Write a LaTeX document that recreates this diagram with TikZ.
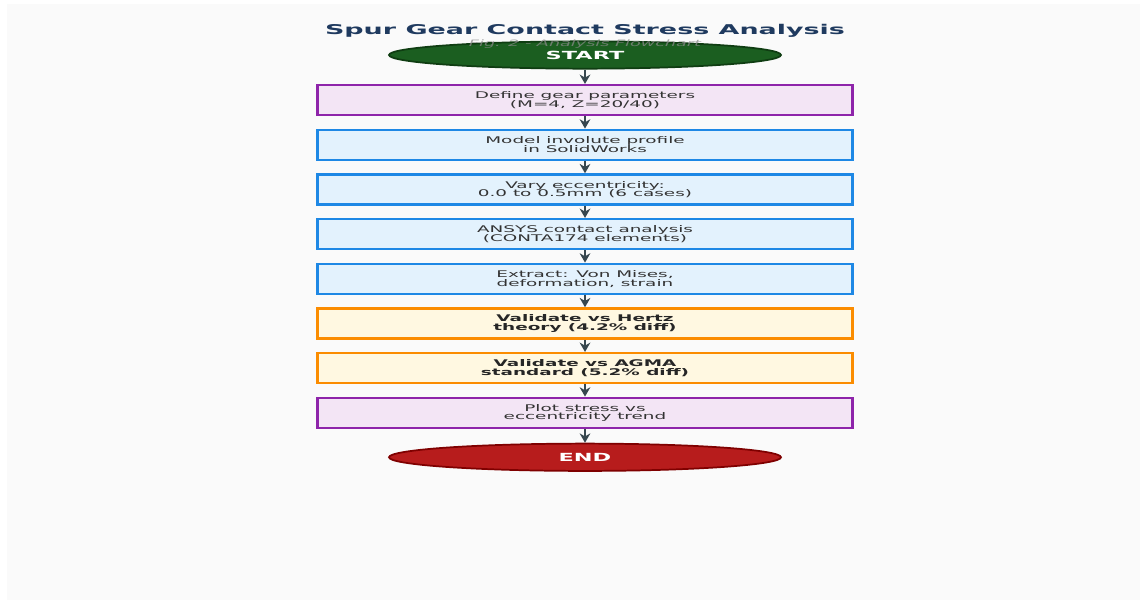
\documentclass[tikz,border=0pt]{standalone}
\usepackage{fontspec}
\setmainfont[FakeStretch=2.0]{DejaVu Sans}
\usetikzlibrary{positioning}
\usetikzlibrary{shapes.geometric}
\usetikzlibrary{arrows.meta}
\usepackage{xcolor}

\definecolor{bggray}{HTML}{FAFAFA}
\definecolor{titleblue}{HTML}{1F3A5F}
\definecolor{subgray}{HTML}{8A8A8A}
\definecolor{txtgray}{HTML}{333333}
\definecolor{arrowgray}{HTML}{37474F}
\definecolor{greenfill}{HTML}{1B5E20}
\definecolor{greenline}{HTML}{0F3D12}
\definecolor{redfill}{HTML}{B71C1C}
\definecolor{redline}{HTML}{7F0000}
\definecolor{purpleline}{HTML}{8E24AA}
\definecolor{purplefill}{HTML}{F3E5F5}
\definecolor{blueline}{HTML}{1E88E5}
\definecolor{bluefill}{HTML}{E3F2FD}
\definecolor{orangeline}{HTML}{FB8C00}
\definecolor{orangefill}{HTML}{FFF8E1}

\begin{document}
\begin{tikzpicture}[
        x=0.75pt, y=-0.75pt,
        node distance=9.1pt,
        stepbox/.style={draw, line width=1.9pt, minimum width=401pt,
                     minimum height=22.5pt, inner sep=0pt, align=center,
                     text=txtgray, font={\fontsize{6.9}{6.6}\selectfont\lineskiplimit=-5pt}},
        boxp/.style={stepbox, draw=purpleline, fill=purplefill},
        boxb/.style={stepbox, draw=blueline,   fill=bluefill},
        boxo/.style={stepbox, draw=orangeline, fill=orangefill, text=black!85,
                     font={\fontsize{6.9}{6.6}\selectfont\bfseries\lineskiplimit=-5pt}},
        terminal/.style={ellipse, draw, line width=1.3pt, minimum width=294pt,
                     minimum height=20.5pt, inner sep=0pt, text=white,
                     font=\fontsize{8.4}{9}\selectfont\bfseries},
        arr/.style={-{Stealth[length=7pt, width=8pt]}, line width=2pt, arrowgray}
    ]
        \useasboundingbox (0,0) rectangle (1145,605);
        \fill[bggray] (7,4) rectangle (1140,600);

        \node[font=\fontsize{10.1}{11}\selectfont\bfseries, text=titleblue] (title) at (585,31)
            {Spur Gear Contact Stress Analysis};

        \node[terminal, fill=greenfill, draw=greenline] (start) at (585,55) {START};
        \node[font=\fontsize{6.6}{7}\selectfont\itshape, text=subgray, text opacity=0.75]
            (subtitle) at (585,44) {Fig. 2 - Analysis Flowchart};

        \node[boxp, below=10.8pt of start] (define)   {Define gear parameters\\(M=4, Z=20/40)};
        \node[boxb, below=of define]     (model)    {Model involute profile\\in SolidWorks};
        \node[boxb, below=of model]      (vary)     {Vary eccentricity:\\0.0 to 0.5mm (6 cases)};
        \node[boxb, below=of vary]       (ansys)    {ANSYS contact analysis\\(CONTA174 elements)};
        \node[boxb, below=of ansys]      (extract)  {Extract: Von Mises,\\deformation, strain};
        \node[boxo, below=of extract]    (hertz)    {Validate vs Hertz\\theory (4.2\% diff)};
        \node[boxo, below=of hertz]      (agma)     {Validate vs AGMA\\standard (5.2\% diff)};
        \node[boxp, below=of agma]       (plot)     {Plot stress vs\\eccentricity trend};
        \node[terminal, fill=redfill, draw=redline, below=10.2pt of plot] (finish) {END};

        \draw[arr] (start)   -- (define);
        \draw[arr] (define)  -- (model);
        \draw[arr] (model)   -- (vary);
        \draw[arr] (vary)    -- (ansys);
        \draw[arr] (ansys)   -- (extract);
        \draw[arr] (extract) -- (hertz);
        \draw[arr] (hertz)   -- (agma);
        \draw[arr] (agma)    -- (plot);
        \draw[arr] (plot)    -- (finish);
    \end{tikzpicture}
\end{document}
